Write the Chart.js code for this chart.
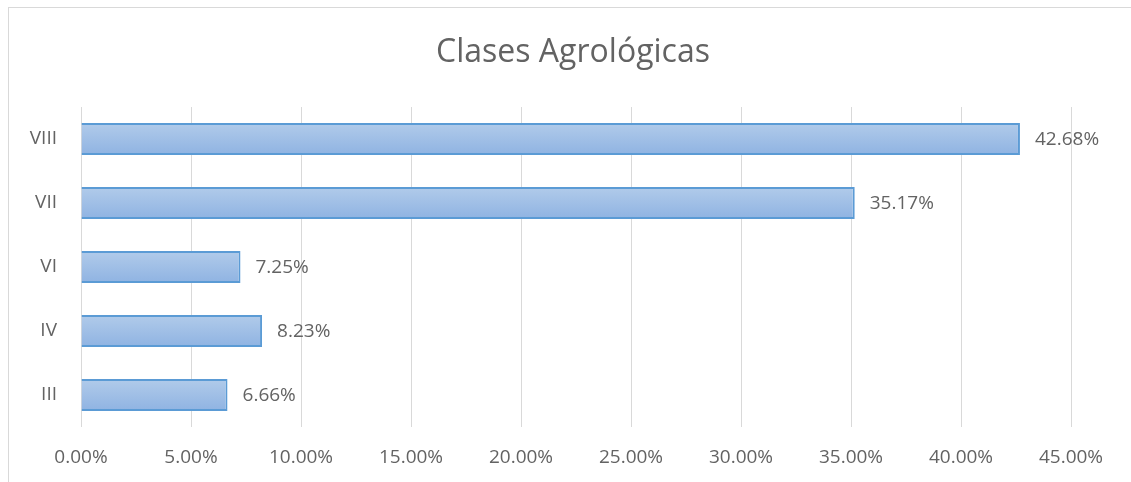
<!DOCTYPE html>
<html>
<head>
<meta charset="utf-8">
<script src="https://cdn.jsdelivr.net/npm/chart.js@4/dist/chart.umd.min.js"></script>
<style>
  html, body { margin: 0; padding: 0; background: #fff; overflow: hidden; }
  .frame { position: absolute; left: 8px; top: 7px; width: 1300px; height: 700px; border: 1px solid #d9d9d9; }
  .wrap { position: absolute; left: 0; top: 0; width: 1131px; height: 482px; }
</style>
</head>
<body>
<div class="frame"></div>
<div class="wrap"><canvas id="bar_chart"></canvas></div>
<script>
// DATA
const chart_title = "Clases Agrológicas";
const clases = ["VIII", "VII", "VI", "IV", "III"];
const porcentajes = [42.68, 35.17, 7.25, 8.23, 6.66];
const x_max = 45;
const x_step = 5;

const text_color = "#636363";
const font_family = "'Open Sans', 'DejaVu Sans', sans-serif";

// gradient fill for each bar, top light -> bottom darker
function barFill(context) {
  const chart = context.chart;
  if (!chart.chartArea) return "#9dbde6";
  const y = chart.scales.y.getPixelForValue(context.dataIndex);
  const g = chart.ctx.createLinearGradient(0, y - 16, 0, y + 16);
  g.addColorStop(0, "#b1cbea");
  g.addColorStop(1, "#8fb3e2");
  return g;
}

// title + value labels
const labelsPlugin = {
  id: "labelsPlugin",
  afterDatasetsDraw(chart) {
    const ctx = chart.ctx;
    const meta = chart.getDatasetMeta(0);
    ctx.save();
    ctx.fillStyle = text_color;
    ctx.font = "19px " + font_family;
    ctx.textBaseline = "middle";
    ctx.textAlign = "left";
    meta.data.forEach((bar, i) => {
      ctx.fillText(porcentajes[i].toFixed(2) + "%", bar.x + 15, bar.y + 1);
    });
    ctx.font = "32px " + font_family;
    ctx.textAlign = "center";
    ctx.fillText(chart_title, 573, 53);
    ctx.restore();
  }
};

const ctx = document.getElementById("bar_chart").getContext("2d");
let my_chart = new Chart(ctx, {
  type: "bar",
  data: {
    labels: clases,
    datasets: [{
      label: chart_title,
      data: porcentajes,
      backgroundColor: barFill,
      borderColor: "#5b9bd5",
      borderWidth: 2,
      barPercentage: 1,
      categoryPercentage: 0.5,
    }]
  },
  options: {
    indexAxis: "y",
    responsive: true,
    maintainAspectRatio: false,
    animation: false,
    layout: { padding: { top: 107, right: 60, bottom: 0, left: 0 } },
    plugins: {
      legend: { display: false },
      title: { display: false },
      tooltip: { enabled: false },
    },
    scales: {
      x: {
        min: 0,
        max: x_max,
        afterFit: (scale) => { scale.height = 55; },
        ticks: {
          stepSize: x_step,
          color: text_color,
          font: { family: font_family, size: 19 },
          padding: 19,
          maxRotation: 0,
          callback: (v) => v.toFixed(2) + "%",
        },
        grid: { color: "#d9d9d9", lineWidth: 1, drawTicks: false },
        border: { display: false },
      },
      y: {
        afterFit: (scale) => { scale.width = 81; },
        ticks: {
          color: text_color,
          font: { family: font_family, size: 19 },
          padding: 24,
        },
        grid: { display: false, drawTicks: false },
        border: { display: false },
      }
    }
  },
  plugins: [labelsPlugin]
});
</script>
</body>
</html>
